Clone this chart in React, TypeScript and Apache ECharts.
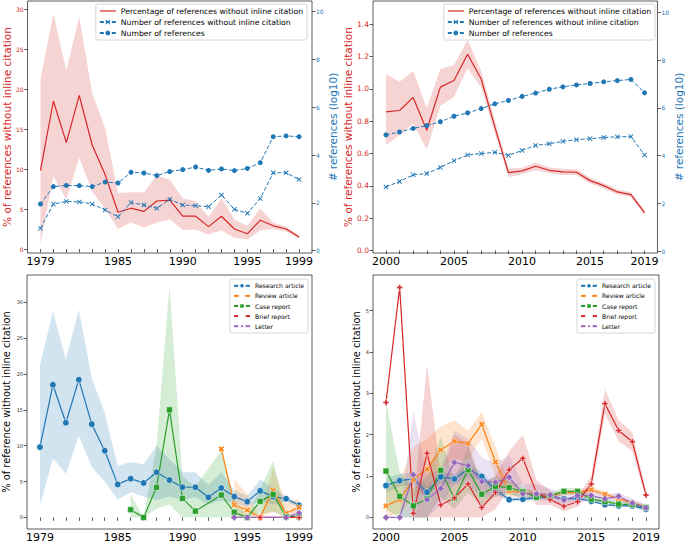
import React, { useEffect, useRef } from 'react';
import * as echarts from 'echarts';

// ---------- data: top-left (1979-1999) ----------
const tlYears = [1979, 1980, 1981, 1982, 1983, 1984, 1985, 1986, 1987, 1988, 1989, 1990, 1991, 1992, 1993, 1994, 1995, 1996, 1997, 1998, 1999];
const tlPct = [9.8, 18.5, 13.3, 19.2, 13.0, 9.3, 4.6, 5.1, 4.7, 6.0, 6.1, 4.1, 4.1, 2.8, 4.1, 2.5, 1.9, 3.6, 2.9, 2.5, 1.5];
const tlPctHi = [21.2, 29.4, 22.3, 29.0, 19.5, 15.1, 7.0, 7.1, 7.1, 9.2, 8.7, 6.3, 6.0, 4.0, 6.3, 3.7, 2.9, 5.1, 3.3, 2.8, 1.7];
const tlPctLo = [0.6, 9.1, 6.2, 11.4, 7.2, 5.0, 2.5, 3.3, 2.7, 3.3, 3.7, 2.4, 2.4, 1.8, 2.3, 1.4, 1.2, 2.3, 2.5, 2.2, 1.3];
const tlNoCite = [0.93, 1.95, 2.06, 2.04, 1.95, 1.7, 1.42, 2.01, 1.91, 1.77, 2.15, 1.91, 1.88, 1.84, 2.33, 1.73, 1.56, 2.18, 3.26, 3.26, 2.98];
const tlRefs = [1.95, 2.68, 2.73, 2.72, 2.68, 2.87, 2.83, 3.28, 3.25, 3.14, 3.31, 3.39, 3.5, 3.36, 3.42, 3.35, 3.44, 3.68, 4.77, 4.8, 4.77];

// ---------- data: top-right (2000-2019) ----------
const trYears = [2000, 2001, 2002, 2003, 2004, 2005, 2006, 2007, 2008, 2009, 2010, 2011, 2012, 2013, 2014, 2015, 2016, 2017, 2018, 2019];
const trPct = [0.858, 0.866, 0.947, 0.744, 1.011, 1.052, 1.214, 1.061, 0.765, 0.482, 0.492, 0.521, 0.496, 0.486, 0.484, 0.432, 0.401, 0.362, 0.345, 0.234];
const trPctHi = [1.092, 1.044, 1.112, 0.88, 1.123, 1.146, 1.303, 1.11, 0.806, 0.507, 0.512, 0.545, 0.515, 0.505, 0.503, 0.45, 0.418, 0.378, 0.36, 0.248];
const trPctLo = [0.651, 0.713, 0.786, 0.624, 0.895, 0.951, 1.127, 1.009, 0.724, 0.455, 0.472, 0.497, 0.477, 0.467, 0.465, 0.414, 0.384, 0.346, 0.33, 0.22];
const trNoCite = [2.69, 2.92, 3.2, 3.25, 3.51, 3.79, 4.03, 4.09, 4.14, 4.01, 4.22, 4.43, 4.5, 4.6, 4.67, 4.71, 4.76, 4.79, 4.8, 4.03];
const trRefs = [4.87, 4.99, 5.14, 5.26, 5.42, 5.65, 5.79, 5.97, 6.17, 6.31, 6.48, 6.62, 6.78, 6.88, 6.96, 7.02, 7.09, 7.14, 7.19, 6.63];

// ---------- data: bottom-left (1979-1999, by article type) ----------
const blRes = [9.8, 18.5, 13.2, 19.2, 13.0, 9.3, 4.6, 5.4, 4.8, 6.3, 5.2, 4.2, 4.2, 2.8, 4.1, 2.9, 2.2, 3.7, 2.9, 2.6, 1.7];
const blResHi = [21.2, 28.7, 22.0, 29.0, 19.4, 14.6, 7.2, 7.7, 7.4, 10.0, 8.1, 6.3, 6.3, 4.5, 6.3, 3.8, 3.0, 5.3, 4.1, 2.9, 2.0];
const blResLo = [1.7, 8.2, 6.1, 11.4, 7.0, 5.0, 2.5, 3.5, 2.9, 2.4, 2.9, 2.4, 2.8, 1.8, 2.4, 2.0, 1.4, 2.3, 1.8, 2.2, 1.4];
const blCaseYears = [1986, 1987, 1988, 1989, 1990, 1991, 1993, 1994, 1995, 1996, 1997, 1998, 1999];
const blCase = [1.07, 0.0, 4.19, 15.0, 2.65, 0.88, 3.12, 0.7, 0.0, 2.23, 3.21, 0.1, 0.1];
const blCaseHi = [3.2, 0.0, 10.0, 32.3, 5.7, 4.3, 9.3, 2.5, 0.3, 4.0, 7.9, 0.3, 0.3];
const blCaseLo = [0, 0, 1.2, 1.8, 0, 0, 0, 0, 0, 0.5, 0.8, 0, 0];
const blRevYears = [1993, 1994, 1995, 1996, 1997, 1998, 1999];
const blRev = [9.54, 1.77, 1.02, 0.0, 3.77, 0.56, 1.4];
const blRevBandYears = [1994, 1995, 1996, 1997, 1998, 1999];
const blRevHi = [5.4, 3.2, 0.0, 7.0, 2.0, 2.6];
const blRevLo = [0, 0, 0, 0.8, 0, 0.4];
const blBriefYears = [1996, 1999];
const blBrief = [0, 0];
const blLetterYears = [1994, 1995, 1998, 1999];
const blLetter = [0, 0, 0, 0.6];
const blLetterBandYears = [1998, 1999];
const blLetterHi = [0, 1.2];
const blLetterLo = [0, 0];

// ---------- data: bottom-right (2000-2019, by article type) ----------
const brRes = [0.77, 0.89, 0.93, 0.61, 0.98, 0.93, 1.17, 0.99, 0.67, 0.43, 0.44, 0.48, 0.5, 0.45, 0.46, 0.39, 0.31, 0.28, 0.28, 0.2];
const brResHi = [0.95, 1.05, 1.1, 0.75, 1.1, 1.05, 1.3, 1.1, 0.78, 0.48, 0.48, 0.52, 0.54, 0.49, 0.5, 0.42, 0.34, 0.31, 0.31, 0.23];
const brResLo = [0.6, 0.75, 0.8, 0.5, 0.85, 0.8, 1.0, 0.87, 0.58, 0.38, 0.4, 0.44, 0.46, 0.41, 0.42, 0.36, 0.28, 0.25, 0.25, 0.17];
const brRev = [0.28, 0.43, 0.91, 1.17, 1.63, 1.84, 1.79, 2.25, 1.34, 0.64, 0.6, 0.55, 0.52, 0.6, 0.6, 0.67, 0.56, 0.45, 0.35, 0.25];
const brRevHi = [0.7, 0.9, 1.7, 1.9, 2.2, 2.35, 2.1, 2.55, 1.7, 0.85, 0.7, 0.62, 0.58, 0.66, 0.66, 0.75, 0.62, 0.5, 0.4, 0.3];
const brRevLo = [0, 0.1, 0.5, 0.6, 1.2, 1.4, 1.4, 1.9, 1.0, 0.5, 0.5, 0.48, 0.46, 0.54, 0.54, 0.6, 0.5, 0.4, 0.3, 0.2];
const brCase = [1.12, 0.51, 0.28, 0.45, 1.14, 0.46, 1.15, 0.56, 0.75, 0.72, 0.62, 0.49, 0.52, 0.63, 0.63, 0.44, 0.38, 0.32, 0.31, 0.24];
const brCaseHi = [2.8, 1.1, 0.7, 1.0, 1.95, 0.9, 1.7, 0.8, 1.0, 0.9, 0.75, 0.58, 0.6, 0.72, 0.7, 0.52, 0.45, 0.38, 0.37, 0.3];
const brCaseLo = [0.2, 0, 0, 0, 0.5, 0.2, 0.6, 0.3, 0.5, 0.55, 0.5, 0.42, 0.45, 0.55, 0.56, 0.37, 0.32, 0.27, 0.26, 0.19];
const brBrief = [2.78, 5.56, 0.1, 1.55, 0.3, 0.47, 0.81, 0.24, 0.6, 1.15, 1.43, 0.59, 0.43, 0.27, 0.38, 0.81, 2.75, 2.1, 1.83, 0.54];
const brBriefBandYears = [2002, 2003, 2004, 2005, 2006, 2007, 2008, 2009, 2010, 2011, 2012, 2013, 2014, 2015, 2016, 2017, 2018, 2019];
const brBriefHi = [0.3, 3.7, 1.0, 2.0, 1.8, 0.8, 1.0, 1.6, 2.0, 0.9, 0.65, 0.4, 0.5, 1.0, 3.1, 2.35, 2.05, 0.65];
const brBriefLo = [0, 0, 0, 0, 0, 0, 0.2, 0.7, 0.8, 0.3, 0.3, 0.15, 0.25, 0.6, 2.5, 1.85, 1.6, 0.45];
const brLetter = [0, 0, 1.03, 0.43, 0.7, 1.33, 1.25, 0.87, 0.85, 0.97, 0.57, 0.57, 0.54, 0.42, 0.53, 0.53, 0.45, 0.51, 0.35, 0.23];
const brLetterHi = [0, 0, 2.56, 1.0, 1.2, 2.1, 1.9, 1.45, 1.3, 1.5, 0.8, 0.8, 0.7, 0.55, 0.65, 0.65, 0.55, 0.6, 0.45, 0.32];
const brLetterLo = [0, 0, 0, 0, 0.3, 0.8, 0.8, 0.5, 0.5, 0.6, 0.4, 0.4, 0.4, 0.3, 0.4, 0.4, 0.35, 0.4, 0.25, 0.12];

// ---------- ticks ----------
const leftTicksX = [1979, 1980, 1981, 1982, 1983, 1984, 1985, 1986, 1987, 1988, 1989, 1990, 1991, 1992, 1993, 1994, 1995, 1996, 1997, 1998, 1999];
const leftLabelsX = [1979, 1985, 1990, 1995, 1999];
const rightTicksX = [2000, 2001, 2002, 2003, 2004, 2005, 2006, 2007, 2008, 2009, 2010, 2011, 2012, 2013, 2014, 2015, 2016, 2017, 2018, 2019];
const rightLabelsX = [2000, 2005, 2010, 2015, 2019];
const pctTicks30 = [0, 5, 10, 15, 20, 25, 30];
const pctTicks14 = [0, 0.2, 0.4, 0.6, 0.8, 1.0, 1.2, 1.4];
const logTicks = [0, 2, 4, 6, 8, 10];
const pctTicks5 = [0, 1, 2, 3, 4, 5];

const nameTop = ['Percentage of references without inline citation', 'Number of references without inline citation', 'Number of references'];
const nameTypes = ['Research article', 'Review article', 'Case report', 'Brief report', 'Letter'];

const RED = '#d62728';
const BLUE = '#1f77b4';
const ORANGE = '#ff7f0e';
const GREEN = '#2ca02c';
const PURPLE = '#9467bd';
const FONT = 'DejaVu Sans';

const X_THIN = 'path://M0,1.3L1.3,0L5,3.7L8.7,0L10,1.3L6.3,5L10,8.7L8.7,10L5,6.3L1.3,10L0,8.7L3.7,5Z';
const X_FILL = 'path://M0,2.3L2.3,0L5,2.7L7.7,0L10,2.3L7.3,5L10,7.7L7.7,10L5,7.3L2.3,10L0,7.7L2.7,5Z';
const P_FILL = 'path://M3.3,0H6.7V3.3H10V6.7H6.7V10H3.3V6.7H0V3.3H3.3Z';
const LINE_ICON = 'path://M0,0H16V1.2H0Z';

function band(xi: number, yi: number, xs: number[], lo: number[], hi: number[], color: string) {
  return {
    type: 'custom',
    name: '_band',
    xAxisIndex: xi,
    yAxisIndex: yi,
    silent: true,
    z: 1,
    data: xs.map((x, i) => [x, lo[i], hi[i]]),
    encode: { x: 0, y: [1, 2] },
    renderItem: (params: any, api: any) => {
      if (params.dataIndex !== 0) return null;
      const pts: number[][] = [];
      for (let i = 0; i < xs.length; i++) pts.push(api.coord([xs[i], hi[i]]));
      for (let i = xs.length - 1; i >= 0; i--) pts.push(api.coord([xs[i], lo[i]]));
      return { type: 'polygon', shape: { points: pts }, style: { fill: color, opacity: 0.2 } };
    },
  };
}

function line(name: string, xi: number, yi: number, xs: number[], ys: number[], color: string, o: any) {
  return {
    type: 'line',
    name,
    xAxisIndex: xi,
    yAxisIndex: yi,
    data: xs.map((x, i) => [x, ys[i]]),
    symbol: o.symbol || 'none',
    symbolSize: o.size || 5,
    showSymbol: !!o.symbol,
    clip: false,
    z: o.z || 3,
    lineStyle: { color, width: o.width || 1.2, type: o.dash ? [4, 2] : 'solid' },
    itemStyle: { color, borderColor: o.border || color, borderWidth: o.border ? 0.5 : 0 },
    emphasis: { disabled: true },
  };
}

function xAxis(grid: number, min: number, max: number, ticks: number[], labels: number[]) {
  return {
    type: 'value', gridIndex: grid, min, max,
    axisLine: { show: false },
    splitLine: { show: false },
    axisTick: { show: true, length: 3.5, lineStyle: { color: '#333', width: 0.8 }, customValues: ticks },
    axisLabel: { customValues: labels, fontSize: 11, color: '#000', margin: 3, fontFamily: FONT, formatter: (v: number) => String(v) },
  };
}

function yAxis(grid: number, pos: string, min: number, max: number, ticks: number[], color: string, fs: number, fmt: (v: number) => string, name: string, nameColor: string, nameSize: number, nameGap: number) {
  return {
    type: 'value', gridIndex: grid, position: pos, min, max,
    axisLine: { show: false },
    splitLine: { show: false },
    axisTick: { show: true, length: 3.5, lineStyle: { color: '#333', width: 0.8 }, customValues: ticks },
    axisLabel: { customValues: ticks, fontSize: fs, color, margin: 4, fontFamily: FONT, formatter: fmt },
    name,
    nameLocation: 'middle',
    nameRotate: 90,
    nameGap,
    nameTextStyle: { color: nameColor, fontSize: nameSize, fontFamily: FONT },
  };
}

function legend(items: any[], right: number, top: number, fs: number, lh: number, ih: number, gap: number) {
  return {
    data: items,
    orient: 'vertical',
    right,
    top,
    align: 'left',
    selectedMode: false,
    backgroundColor: 'rgba(255,255,255,0.85)',
    borderColor: '#ccc',
    borderWidth: 0.8,
    borderRadius: 2,
    padding: [3, 4, 3, 3],
    itemGap: gap,
    itemWidth: 16,
    itemHeight: ih,
    textStyle: { fontSize: fs, color: '#000', fontFamily: FONT, lineHeight: lh },
  };
}

const int = (v: number) => String(v);
const dec1 = (v: number) => v.toFixed(1);

export default function App() {
  const ref = useRef<HTMLDivElement>(null);
  useEffect(() => {
    if (!ref.current) return;
    const chart = echarts.init(ref.current, undefined, { renderer: 'svg' });
    const gridStyle = { show: true, borderColor: '#333', borderWidth: 0.8, backgroundColor: 'transparent', containLabel: false };
    const WHITE = '#ffffff';
    const topLegendItems = [
      { name: nameTop[0], icon: LINE_ICON, itemStyle: { color: RED } },
      { name: nameTop[1] },
      { name: nameTop[2] },
    ];
    const option: any = {
      animation: false,
      textStyle: { fontFamily: FONT },
      grid: [
        { ...gridStyle, left: 27, top: 1, width: 285, height: 252 },
        { ...gridStyle, left: 373, top: 1, width: 286, height: 252 },
        { ...gridStyle, left: 27, top: 275, width: 285, height: 254 },
        { ...gridStyle, left: 373, top: 275, width: 286, height: 254 },
      ],
      xAxis: [
        xAxis(0, 1978, 2000, leftTicksX, leftLabelsX),
        xAxis(1, 1999.05, 2019.95, rightTicksX, rightLabelsX),
        xAxis(2, 1978, 2000, leftTicksX, leftLabelsX),
        xAxis(3, 1999.05, 2019.95, rightTicksX, rightLabelsX),
      ],
      yAxis: [
        yAxis(0, 'left', -0.5, 31, pctTicks30, RED, 6, int, '% of references without inline citation', RED, 10.5, 15),
        yAxis(0, 'right', -0.1, 10.45, logTicks, BLUE, 6, int, '# references (log10)', BLUE, 10.5, 12),
        yAxis(1, 'left', -0.016, 1.544, pctTicks14, RED, 7.5, dec1, '% of references without inline citation', RED, 10.5, 18),
        yAxis(1, 'right', -0.07, 10.47, logTicks, BLUE, 6, int, '# references (log10)', BLUE, 10.5, 12),
        yAxis(2, 'left', -1.62, 33.8, pctTicks30, '#333', 5, int, '% of reference without inline citation', '#000', 9.8, 16),
        yAxis(3, 'left', -0.28, 5.86, pctTicks5, '#333', 5, int, '% of reference without inline citation', '#000', 9.8, 12),
      ],
      legend: [
        legend(topLegendItems, 378, 4, 7.7, 8, 6, 3),
        legend(topLegendItems, 30, 4, 7.7, 8, 6, 3),
        legend(nameTypes, 377, 279, 6.1, 7, 7, 2.5),
        legend(nameTypes, 30, 279, 6.1, 7, 7, 2.5),
      ],
      series: [
        // top-left
        band(0, 0, tlYears, tlPctLo, tlPctHi, RED),
        line(nameTop[0], 0, 0, tlYears, tlPct, RED, { width: 1.2 }),
        line(nameTop[1], 0, 1, tlYears, tlNoCite, BLUE, { symbol: X_THIN, size: 5, dash: true, width: 1, z: 4 }),
        line(nameTop[2], 0, 1, tlYears, tlRefs, BLUE, { symbol: 'circle', size: 5, dash: true, width: 1, z: 4 }),
        // top-right
        band(1, 2, trYears, trPctLo, trPctHi, RED),
        line(nameTop[0], 1, 2, trYears, trPct, RED, { width: 1.2 }),
        line(nameTop[1], 1, 3, trYears, trNoCite, BLUE, { symbol: X_THIN, size: 5, dash: true, width: 1, z: 4 }),
        line(nameTop[2], 1, 3, trYears, trRefs, BLUE, { symbol: 'circle', size: 5, dash: true, width: 1, z: 4 }),
        // bottom-left
        band(2, 4, tlYears, blResLo, blResHi, BLUE),
        band(2, 4, blRevBandYears, blRevLo, blRevHi, ORANGE),
        band(2, 4, blCaseYears, blCaseLo, blCaseHi, GREEN),
        band(2, 4, blLetterBandYears, blLetterLo, blLetterHi, PURPLE),
        line(nameTypes[0], 2, 4, tlYears, blRes, BLUE, { symbol: 'circle', size: 6.5, border: WHITE }),
        line(nameTypes[1], 2, 4, blRevYears, blRev, ORANGE, { symbol: X_FILL, size: 6, border: WHITE }),
        line(nameTypes[2], 2, 4, blCaseYears, blCase, GREEN, { symbol: 'rect', size: 6, border: WHITE }),
        line(nameTypes[3], 2, 4, blBriefYears, blBrief, RED, { symbol: P_FILL, size: 6, border: WHITE }),
        line(nameTypes[4], 2, 4, blLetterYears, blLetter, PURPLE, { symbol: 'diamond', size: 7, border: WHITE }),
        // bottom-right
        band(3, 5, trYears, brResLo, brResHi, BLUE),
        band(3, 5, trYears, brRevLo, brRevHi, ORANGE),
        band(3, 5, trYears, brCaseLo, brCaseHi, GREEN),
        band(3, 5, brBriefBandYears, brBriefLo, brBriefHi, RED),
        band(3, 5, trYears, brLetterLo, brLetterHi, PURPLE),
        line(nameTypes[0], 3, 5, trYears, brRes, BLUE, { symbol: 'circle', size: 6.5, border: WHITE }),
        line(nameTypes[1], 3, 5, trYears, brRev, ORANGE, { symbol: X_FILL, size: 6, border: WHITE }),
        line(nameTypes[2], 3, 5, trYears, brCase, GREEN, { symbol: 'rect', size: 6, border: WHITE }),
        line(nameTypes[3], 3, 5, trYears, brBrief, RED, { symbol: P_FILL, size: 6, border: WHITE }),
        line(nameTypes[4], 3, 5, trYears, brLetter, PURPLE, { symbol: 'diamond', size: 7, border: WHITE }),
      ],
    };
    chart.setOption(option);
    return () => chart.dispose();
  }, []);
  return <div ref={ref} style={{ position: 'absolute', left: 0, top: 0, width: 685, height: 543, background: '#fff' }} />;
}
